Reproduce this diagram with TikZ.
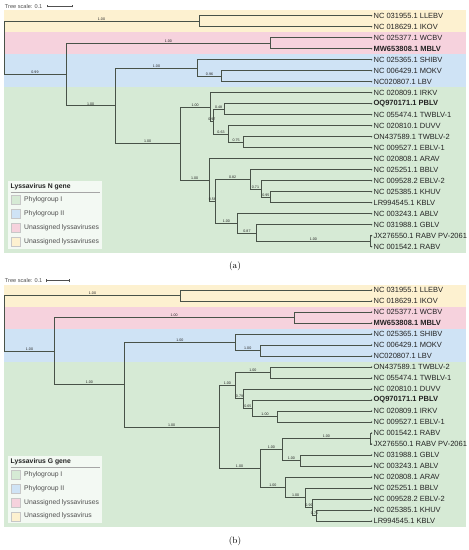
\documentclass[tikz,border=0pt]{standalone}
\usepackage{fontspec}
\newfontfamily\lsans{Liberation Sans}
\definecolor{bandY}{RGB}{253,241,208}
\definecolor{bandP}{RGB}{246,210,221}
\definecolor{bandB}{RGB}{207,227,245}
\definecolor{bandG}{RGB}{214,234,213}
\definecolor{treeC}{RGB}{72,82,72}
\definecolor{txtC}{RGB}{35,35,35}
\definecolor{legT}{RGB}{80,80,80}
\tikzset{
  br/.style={draw=treeC, line width=0.7pt},
  bl/.style={pos=0.75, above, inner sep=0.3pt, font=\lsans\fontsize{3.6}{4}\selectfont, text=txtC},
  lt/.style={anchor=west, inner sep=0pt, xshift=1.7pt, font=\lsans\fontsize{7.5}{8}\selectfont, text=txtC},
  legbox/.style={fill=white, fill opacity=0.72, draw=none, inner sep=0pt, anchor=north west, minimum width=94.4pt, minimum height=67.3pt},
  legtitle/.style={anchor=west, inner sep=0pt, font=\lsans\bfseries\fontsize{6.8}{7}\selectfont, text=txtC},
  legent/.style={anchor=west, inner sep=0pt, font=\lsans\fontsize{6.8}{7}\selectfont, text=legT},
  swatch/.style={draw=black!22, line width=0.4pt, minimum width=9pt, minimum height=9pt, inner sep=0pt},
  scaletxt/.style={anchor=west, inner sep=0pt, font=\lsans\fontsize{5.6}{6}\selectfont, text=legT},
  capt/.style={inner sep=0pt, font=\fontsize{9}{10}\selectfont, text=black},
}
\newcommand\lvleaf[4]{%
  \coordinate (#1) at (#2,#3);
  \fill[treeC] (#1) circle (0.75pt);
  \node[lt] (t#1) at (#1) {#4};
}
\begin{document}
\begin{tikzpicture}[x=1pt,y=-1pt]
\useasboundingbox (0,0) rectangle (469,550);
\fill[white] (0,0) rectangle (469,550);

% ================= (a) =================
\fill[bandY] (4,10.2) rectangle (466,32.2);
\fill[bandP] (4,32.2) rectangle (466,54.2);
\fill[bandB] (4,54.2) rectangle (466,87.2);
\fill[bandG] (4,87.2) rectangle (466,252.8);

\node[scaletxt] (sta) at (4.8,6) {Tree scale: 0.1};
\coordinate (sa1) at (47,6);
\coordinate (sa2) at (72.7,6);
\draw[legT, line width=0.5pt] (sa1) -- (sa2);
\draw[legT, line width=0.5pt] ([yshift=-1.3pt]sa1) -- ([yshift=1.3pt]sa1);
\draw[legT, line width=0.5pt] ([yshift=-1.3pt]sa2) -- ([yshift=1.3pt]sa2);

\lvleaf{a0}{371.7}{15.7}{NC 031955.1 LLEBV}
\lvleaf{a1}{371.7}{26.7}{NC 018629.1 IKOV}
\lvleaf{a2}{371.7}{37.7}{NC 025377.1 WCBV}
\lvleaf{a3}{371.7}{48.7}{\textbf{MW653808.1 MBLV}}
\lvleaf{a4}{371.7}{59.7}{NC 025365.1 SHIBV}
\lvleaf{a5}{371.7}{70.7}{NC 006429.1 MOKV}
\lvleaf{a6}{371.7}{81.7}{NC020807.1 LBV}
\lvleaf{a7}{371.7}{92.7}{NC 020809.1 IRKV}
\lvleaf{a8}{371.7}{103.7}{\textbf{OQ970171.1 PBLV}}
\lvleaf{a9}{371.7}{114.7}{NC 055474.1 TWBLV-1}
\lvleaf{a10}{371.7}{125.7}{NC 020810.1 DUVV}
\lvleaf{a11}{371.7}{136.7}{ON437589.1 TWBLV-2}
\lvleaf{a12}{371.7}{147.7}{NC 009527.1 EBLV-1}
\lvleaf{a13}{371.7}{158.7}{NC 020808.1 ARAV}
\lvleaf{a14}{371.7}{169.7}{NC 025251.1 BBLV}
\lvleaf{a15}{371.7}{180.7}{NC 009528.2 EBLV-2}
\lvleaf{a16}{371.7}{191.7}{NC 025385.1 KHUV}
\lvleaf{a17}{371.7}{202.7}{LR994545.1 KBLV}
\lvleaf{a18}{371.7}{213.7}{NC 003243.1 ABLV}
\lvleaf{a19}{371.7}{224.7}{NC 031988.1 GBLV}
\lvleaf{a20}{371.7}{235.7}{JX276550.1 RABV PV-2061}
\lvleaf{a21}{371.7}{246.7}{NC 001542.1 RABV}

\coordinate (aroot) at (4,47.85);
\coordinate (aY) at (199,21.2);
\coordinate (aR) at (66,74.5);
\coordinate (aP) at (270.7,43.2);
\coordinate (aBG) at (115.3,105.75);
\coordinate (aB) at (197.7,67.95);
\coordinate (aBM) at (221.3,76.2);
\coordinate (aG) at (180,143.55);
\coordinate (aA) at (210.3,107.1);
\coordinate (aBn) at (213.3,121.6);
\coordinate (aC) at (224,109.2);
\coordinate (aD) at (228.7,133.95);
\coordinate (aE) at (243.7,142.2);
\coordinate (aF) at (209.3,180);
\coordinate (aGn) at (215.3,201.3);
\coordinate (aH) at (250,179.3);
\coordinate (aJ) at (261,188.95);
\coordinate (aK) at (270.7,197.2);
\coordinate (aI) at (237.3,223.3);
\coordinate (aL) at (256.7,232.95);
\coordinate (aM) at (370,241.2);

\draw[br] (aroot) |- node[bl]{1.00} (aY);
\draw[br] (aroot) |- node[bl]{0.99} (aR);
\draw[br] (aY) |- (a0);
\draw[br] (aY) |- (a1);
\draw[br] (aR) |- node[bl]{1.00} (aP);
\draw[br] (aR) |- node[bl]{1.00} (aBG);
\draw[br] (aP) |- (a2);
\draw[br] (aP) |- (a3);
\draw[br] (aBG) |- node[bl]{1.00} (aB);
\draw[br] (aBG) |- node[bl]{1.00} (aG);
\draw[br] (aB) |- (a4);
\draw[br] (aB) |- node[bl]{0.96} (aBM);
\draw[br] (aBM) |- (a5);
\draw[br] (aBM) |- (a6);
\draw[br] (aG) |- node[bl]{1.00} (aA);
\draw[br] (aG) |- node[bl]{1.00} (aF);
\draw[br] (aA) |- (a7);
\draw[br] (aA) |- node[bl]{0.97} (aBn);
\draw[br] (aBn) |- node[bl]{0.48} (aC);
\draw[br] (aBn) |- node[bl]{0.63} (aD);
\draw[br] (aC) |- (a8);
\draw[br] (aC) |- (a9);
\draw[br] (aD) |- (a10);
\draw[br] (aD) |- node[bl]{0.75} (aE);
\draw[br] (aE) |- (a11);
\draw[br] (aE) |- (a12);
\draw[br] (aF) |- (a13);
\draw[br] (aF) |- node[bl]{0.58} (aGn);
\draw[br] (aGn) |- node[bl]{0.82} (aH);
\draw[br] (aGn) |- node[bl]{1.00} (aI);
\draw[br] (aH) |- (a14);
\draw[br] (aH) |- node[bl]{0.71} (aJ);
\draw[br] (aJ) |- (a15);
\draw[br] (aJ) |- node[bl]{0.95} (aK);
\draw[br] (aK) |- (a16);
\draw[br] (aK) |- (a17);
\draw[br] (aI) |- (a18);
\draw[br] (aI) |- node[bl]{0.87} (aL);
\draw[br] (aL) |- (a19);
\draw[br] (aL) |- node[bl]{1.00} (aM);
\draw[br] (aM) |- (a20);
\draw[br] (aM) |- (a21);

% legend (a)
\node[legbox] (lega) at (7.3,181) {};
\node[legtitle] (legat) at (10.5,186.7) {Lyssavirus N gene};
\draw[black!35, line width=0.5pt] (10.5,192.3) -- (100,192.3);
\node[swatch, fill=bandG] (sa1g) at (15.4,200) {};
\node[swatch, fill=bandB] (sa2b) at (15.4,214) {};
\node[swatch, fill=bandP] (sa3p) at (15.4,227.7) {};
\node[swatch, fill=bandY] (sa4y) at (15.4,241.7) {};
\node[legent] (la1) at (24,200) {Phylogroup I};
\node[legent] (la2) at (24,214) {Phylogroup II};
\node[legent] (la3) at (24,227.7) {Unassigned lyssaviruses};
\node[legent] (la4) at (24,241.7) {Unassigned lyssaviruses};

\node[capt] (capa) at (235,266) {(a)};

% ================= (b) =================
\fill[bandY] (4,284.5) rectangle (466,306.5);
\fill[bandP] (4,306.5) rectangle (466,328.5);
\fill[bandB] (4,328.5) rectangle (466,361.5);
\fill[bandG] (4,361.5) rectangle (466,527.3);

\node[scaletxt] (stb) at (4.8,280.7) {Tree scale: 0.1};
\coordinate (sb1) at (46.7,280.7);
\coordinate (sb2) at (69,280.7);
\draw[legT, line width=0.5pt] (sb1) -- (sb2);
\draw[legT, line width=0.5pt] ([yshift=-1.3pt]sb1) -- ([yshift=1.3pt]sb1);
\draw[legT, line width=0.5pt] ([yshift=-1.3pt]sb2) -- ([yshift=1.3pt]sb2);

\lvleaf{b0}{371.7}{290}{NC 031955.1 LLEBV}
\lvleaf{b1}{371.7}{301}{NC 018629.1 IKOV}
\lvleaf{b2}{371.7}{312}{NC 025377.1 WCBV}
\lvleaf{b3}{371.7}{323}{\textbf{MW653808.1 MBLV}}
\lvleaf{b4}{371.7}{334}{NC 025365.1 SHIBV}
\lvleaf{b5}{371.7}{345}{NC 006429.1 MOKV}
\lvleaf{b6}{371.7}{356}{NC020807.1 LBV}
\lvleaf{b7}{371.7}{367}{ON437589.1 TWBLV-2}
\lvleaf{b8}{371.7}{378}{NC 055474.1 TWBLV-1}
\lvleaf{b9}{371.7}{389}{NC 020810.1 DUVV}
\lvleaf{b10}{371.7}{400}{\textbf{OQ970171.1 PBLV}}
\lvleaf{b11}{371.7}{411}{NC 020809.1 IRKV}
\lvleaf{b12}{371.7}{422}{NC 009527.1 EBLV-1}
\lvleaf{b13}{371.7}{433}{NC 001542.1 RABV}
\lvleaf{b14}{371.7}{444}{JX276550.1 RABV PV-2061}
\lvleaf{b15}{371.7}{455}{NC 031988.1 GBLV}
\lvleaf{b16}{371.7}{466}{NC 003243.1 ABLV}
\lvleaf{b17}{371.7}{477}{NC 020808.1 ARAV}
\lvleaf{b18}{371.7}{488}{NC 025251.1 BBLV}
\lvleaf{b19}{371.7}{499}{NC 009528.2 EBLV-2}
\lvleaf{b20}{371.7}{510}{NC 025385.1 KHUV}
\lvleaf{b21}{371.7}{521}{LR994545.1 KBLV}

\coordinate (broot) at (4.7,323.3);
\coordinate (bY) at (180.3,295.5);
\coordinate (bR) at (54.3,351.05);
\coordinate (bP) at (294,317.5);
\coordinate (bBG) at (124.3,384.6);
\coordinate (bB) at (235.5,342.25);
\coordinate (bBM) at (260,350.5);
\coordinate (bG) at (219,427);
\coordinate (bU1) at (235.7,385.6);
\coordinate (bT) at (270,372.5);
\coordinate (bU2) at (243.3,398.6);
\coordinate (bU3) at (252.3,408.25);
\coordinate (bU4) at (277.7,416.5);
\coordinate (bL1) at (260,468.4);
\coordinate (bR1) at (282.7,449.5);
\coordinate (bRR) at (370,438.5);
\coordinate (bGA) at (300,460.5);
\coordinate (bA1) at (285.7,487.3);
\coordinate (bA2) at (305.7,497.6);
\coordinate (bA3) at (312.3,507.25);
\coordinate (bA4) at (316.7,515.5);

\draw[br] (broot) |- node[bl]{1.00} (bY);
\draw[br] (broot) |- node[bl]{1.00} (bR);
\draw[br] (bY) |- (b0);
\draw[br] (bY) |- (b1);
\draw[br] (bR) |- node[bl]{1.00} (bP);
\draw[br] (bR) |- node[bl]{1.00} (bBG);
\draw[br] (bP) |- (b2);
\draw[br] (bP) |- (b3);
\draw[br] (bBG) |- node[bl]{1.00} (bB);
\draw[br] (bBG) |- node[bl]{1.00} (bG);
\draw[br] (bB) |- (b4);
\draw[br] (bB) |- node[bl]{1.00} (bBM);
\draw[br] (bBM) |- (b5);
\draw[br] (bBM) |- (b6);
\draw[br] (bG) |- node[bl]{1.00} (bU1);
\draw[br] (bG) |- node[bl]{1.00} (bL1);
\draw[br] (bU1) |- node[bl]{1.00} (bT);
\draw[br] (bU1) |- node[bl]{0.79} (bU2);
\draw[br] (bT) |- (b7);
\draw[br] (bT) |- (b8);
\draw[br] (bU2) |- (b9);
\draw[br] (bU2) |- node[bl]{0.65} (bU3);
\draw[br] (bU3) |- (b10);
\draw[br] (bU3) |- node[bl]{1.00} (bU4);
\draw[br] (bU4) |- (b11);
\draw[br] (bU4) |- (b12);
\draw[br] (bL1) |- node[bl]{1.00} (bR1);
\draw[br] (bL1) |- node[bl]{1.00} (bA1);
\draw[br] (bR1) |- node[bl]{1.00} (bRR);
\draw[br] (bR1) |- node[bl]{1.00} (bGA);
\draw[br] (bRR) |- (b13);
\draw[br] (bRR) |- (b14);
\draw[br] (bGA) |- (b15);
\draw[br] (bGA) |- (b16);
\draw[br] (bA1) |- (b17);
\draw[br] (bA1) |- node[bl]{1.00} (bA2);
\draw[br] (bA2) |- (b18);
\draw[br] (bA2) |- node[bl]{0.99} (bA3);
\draw[br] (bA3) |- (b19);
\draw[br] (bA3) |- node[bl]{0.75} (bA4);
\draw[br] (bA4) |- (b20);
\draw[br] (bA4) |- (b21);

% legend (b)
\node[legbox] (legb) at (7.3,455.7) {};
\node[legtitle] (legbt) at (10.5,461.4) {Lyssavirus G gene};
\draw[black!35, line width=0.5pt] (10.5,467) -- (100,467);
\node[swatch, fill=bandG] (sb1g) at (15.4,474.5) {};
\node[swatch, fill=bandB] (sb2b) at (15.4,488.5) {};
\node[swatch, fill=bandP] (sb3p) at (15.4,502.3) {};
\node[swatch, fill=bandY] (sb4y) at (15.4,516.2) {};
\node[legent] (lb1) at (24,474.5) {Phylogroup I};
\node[legent] (lb2) at (24,488.5) {Phylogroup II};
\node[legent] (lb3) at (24,502.3) {Unassigned lyssaviruses};
\node[legent] (lb4) at (24,516.2) {Unassigned lyssavirus};

\node[capt] (capb) at (235,541.7) {(b)};
\end{tikzpicture}
\end{document}
